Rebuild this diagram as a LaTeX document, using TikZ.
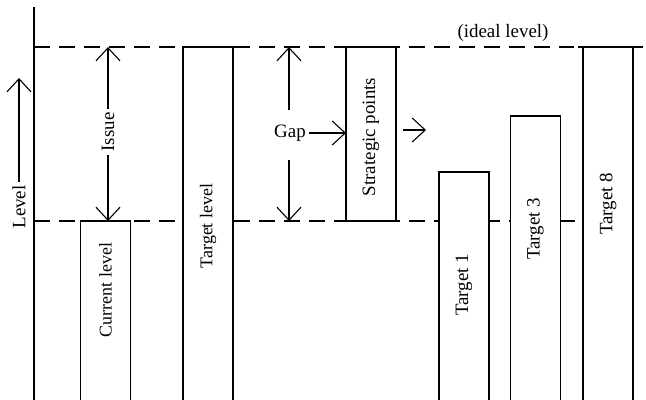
\documentclass[tikz,border=0pt]{standalone}
\usepackage{fontspec}
\setmainfont{Liberation Serif}
\usetikzlibrary{arrows.meta}
\begin{document}
\begin{tikzpicture}[x=1bp,y=-1bp,
  ln/.style={line width=1.1bp},
  dsh/.style={ln, dash pattern=on 16bp off 9bp},
  barbox/.style={fill=white, draw=none, inner sep=0pt, outer sep=0pt, minimum width=50bp, anchor=south},
  lbl/.style={font=\fontsize{19}{21}\selectfont, inner sep=1bp},
  rlbl/.style={lbl, rotate=90},
  arr/.style={ln, -{Straight Barb[length=13bp,width=24bp]}}
]
\useasboundingbox (0,0) rectangle (646,399);
% level lines
\coordinate (axtop) at (34,7);
\coordinate (axbot) at (34,400);
\coordinate (idealL) at (34,47);
\coordinate (idealR) at (574,47);
\coordinate (curL) at (34,221);
\coordinate (curR) at (578,221);
\draw[dsh] (idealL) -- (idealR);
\draw[dsh] (curL) -- (curR);
\draw[ln] (axtop) -- (axbot);
% bars
\node[barbox, minimum height=179bp] (cur) at (105.5,400) {};
\node[barbox, minimum height=353bp] (tgt) at (208,400) {};
\node[barbox, minimum height=174bp, anchor=north] (strat) at (371,47) {};
\node[barbox, minimum height=228bp] (t1) at (464,400) {};
\node[barbox, minimum height=284bp] (t3) at (535.5,400) {};
\node[barbox, minimum height=353bp] (t8) at (608,400) {};
\foreach \b in {cur,tgt,t1,t3,t8}
  \draw[ln] (\b.south west) |- (\b.north east) -- (\b.south east);
\draw[ln] (strat.south west) rectangle (strat.north east);
\coordinate (t8l) at (578,47);
\coordinate (t8r) at (643,47);
\draw[ln] (t8l) -- (t8r);
% texts
\node[rlbl, font=\fontsize{18}{20}\selectfont] (curt) at (105.5,290) {Current level};
\node[rlbl, font=\fontsize{18}{20}\selectfont] (tgtt) at (208,226) {Target level};
\node[rlbl] (stratt) at (371,137) {Strategic points};
\node[rlbl] (t1t) at (464,285) {Target 1};
\node[rlbl] (t3t) at (535.5,229) {Target 3};
\node[rlbl] (t8t) at (608,204) {Target 8};
\node[lbl] (ideal) at (503,33) {(ideal level)};
% level arrow
\node[rlbl, inner sep=3bp] (levelt) at (19,207) {Level};
\coordinate (levtop) at (19,78);
\draw[arr] (levelt.east) -- (levtop);
% issue
\coordinate (issT) at (108,47);
\coordinate (issB) at (108,221);
\node[rlbl, fill=white, inner sep=3bp] (issue) at (108,132) {Issue};
\draw[arr] (issue.east) -- (issT);
\draw[arr] (issue.west) -- (issB);
% gap
\node[lbl, inner sep=3bp] (gap) at (290,133) {Gap};
\coordinate (gapT) at (289,47);
\coordinate (gapB) at (289,221);
\coordinate (gapU) at (289,110);
\coordinate (gapD) at (289,160);
\draw[arr] (gapU) -- (gapT);
\draw[arr] (gapD) -- (gapB);
\draw[arr] (gap.east) -- (strat.west |- gap.east);
% after strategic
\coordinate (outA) at (403,130);
\coordinate (outB) at (426,130);
\draw[arr] (outA) -- (outB);
\end{tikzpicture}
\end{document}
